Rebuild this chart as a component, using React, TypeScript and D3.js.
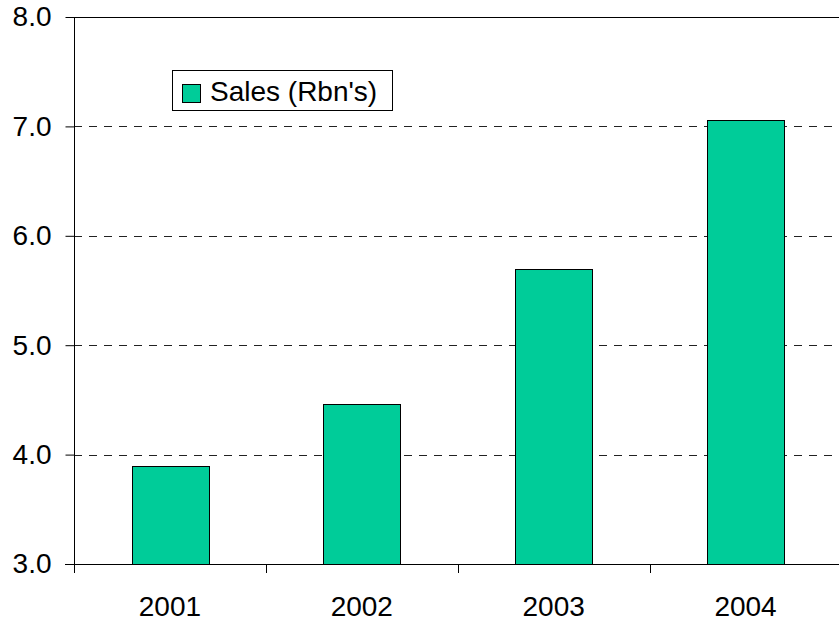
import { useEffect, useRef } from "react";
import * as d3 from "d3";

// chart data
const years = ["2001", "2002", "2003", "2004"];
const sales = [3.9, 4.46, 5.7, 7.06];
const yTicks = [3, 4, 5, 6, 7, 8];
const seriesName = "Sales (Rbn's)";

const width = 839;
const height = 623;

function SalesChart() {
  const svgRef = useRef<SVGSVGElement | null>(null);

  useEffect(() => {
    document.body.style.margin = "0";

    const svg = d3.select(svgRef.current);
    svg.selectAll("*").remove();

    const font = "'Liberation Sans', Arial, sans-serif";
    const left = 74;
    const right = 841.5;
    const top = 17;
    const bottom = 564;

    const x = d3
      .scaleBand<string>()
      .domain(years)
      .range([left, right])
      .paddingInner(0.6)
      .paddingOuter(0.3);

    // category boundaries (for the x tick marks)
    const edge = d3.scaleLinear().domain([0, years.length]).range([left, right]);

    const y = d3.scaleLinear().domain([3, 8]).range([bottom, top]);

    // dashed gridlines
    svg
      .append("g")
      .selectAll("line")
      .data(yTicks.filter(t => t > 3 && t < 8))
      .enter()
      .append("line")
      .attr("x1", left)
      .attr("x2", width)
      .attr("y1", d => Math.round(y(d)) + 0.5)
      .attr("y2", d => Math.round(y(d)) + 0.5)
      .attr("stroke", "#222")
      .attr("stroke-width", 1)
      .attr("stroke-dasharray", "8,7");

    // top border
    svg
      .append("line")
      .attr("x1", left)
      .attr("x2", width)
      .attr("y1", top + 0.5)
      .attr("y2", top + 0.5)
      .attr("stroke", "#000");

    // bars
    svg
      .append("g")
      .selectAll("rect")
      .data(years)
      .enter()
      .append("rect")
      .attr("x", d => Math.round(x(d)!) + 0.5)
      .attr("y", (d, i) => Math.round(y(sales[i])) + 0.5)
      .attr("width", Math.round(x.bandwidth()))
      .attr("height", (d, i) => Math.round(y(3)) - Math.round(y(sales[i])))
      .attr("fill", "#00CC99")
      .attr("stroke", "#000")
      .attr("stroke-width", 1);

    // y axis
    const yAxis = d3
      .axisLeft(y)
      .tickValues(yTicks)
      .tickSize(9)
      .tickPadding(14)
      .tickFormat(d3.format(".1f"));

    const gy = svg
      .append("g")
      .attr("transform", `translate(${left + 0.5},0)`)
      .call(yAxis);
    gy.select(".domain").attr("d", `M0,${top}V${bottom + 9}`).attr("stroke", "#000");
    gy.selectAll(".tick line").attr("stroke", "#000");
    gy.selectAll("text")
      .attr("fill", "#000")
      .style("font-family", font)
      .style("font-size", "28px");

    // x axis line
    svg
      .append("line")
      .attr("x1", left - 9)
      .attr("x2", width)
      .attr("y1", bottom + 0.5)
      .attr("y2", bottom + 0.5)
      .attr("stroke", "#000");

    // x tick marks at category boundaries
    svg
      .append("g")
      .selectAll("line")
      .data(d3.range(1, years.length))
      .enter()
      .append("line")
      .attr("x1", d => Math.round(edge(d)) + 0.5)
      .attr("x2", d => Math.round(edge(d)) + 0.5)
      .attr("y1", bottom)
      .attr("y2", bottom + 9)
      .attr("stroke", "#000");

    // x labels
    svg
      .append("g")
      .selectAll("text")
      .data(years)
      .enter()
      .append("text")
      .attr("x", d => x(d)! + x.bandwidth() / 2)
      .attr("y", 616)
      .attr("text-anchor", "middle")
      .style("font-family", font)
      .style("font-size", "28px")
      .attr("fill", "#000")
      .text(d => d);

    // legend
    const legend = svg.append("g");
    legend
      .append("rect")
      .attr("x", 172.5)
      .attr("y", 70.5)
      .attr("width", 220)
      .attr("height", 40)
      .attr("fill", "#fff")
      .attr("stroke", "#000");
    legend
      .append("rect")
      .attr("x", 182.5)
      .attr("y", 84.5)
      .attr("width", 18)
      .attr("height", 18)
      .attr("fill", "#00CC99")
      .attr("stroke", "#000");
    legend
      .append("text")
      .attr("x", 210)
      .attr("y", 101)
      .style("font-family", font)
      .style("font-size", "28px")
      .attr("fill", "#000")
      .text(seriesName);
  }, []);

  return <svg ref={svgRef} width={width} height={height} style={{ display: "block" }} />;
}

export default function App() {
  return <SalesChart />;
}
